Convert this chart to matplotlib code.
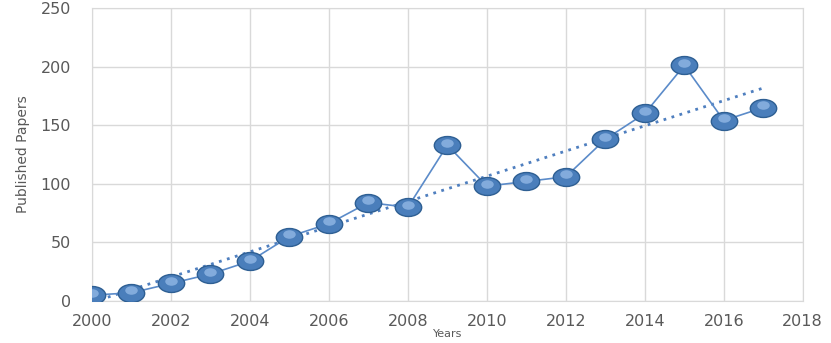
import numpy as np
import matplotlib
matplotlib.use("Agg")
import matplotlib.pyplot as plt
from matplotlib.path import Path
from matplotlib.transforms import Affine2D

years = [2000, 2001, 2002, 2003, 2004, 2005, 2006, 2007, 2008,
         2009, 2010, 2011, 2012, 2013, 2014, 2015, 2016, 2017]
papers = [5, 7, 15, 23, 34, 55, 66, 84, 80,
          133, 98, 102, 106, 138, 160, 201, 154, 165]

# linear trendline like excel
k, b = np.polyfit(years, papers, 1)
trend_x = np.array([years[0], years[-1]])
trend_y = k * trend_x + b

# flattened ball marker
ellipse = Path.unit_circle().transformed(Affine2D().scale(1, 0.68))

fig = plt.figure(figsize=(8.31, 3.43), dpi=100)
ax = fig.add_axes([0.1107, 0.1224, 0.8553, 0.8543])

ax.plot(trend_x, trend_y, color="#4F7FBF", lw=2, ls=(0, (1, 2)), zorder=2)
ax.plot(years, papers, color="#5B8BC9", lw=1.2, zorder=3)
ax.plot(years, papers, ls="none", marker=ellipse, ms=19,
        mfc="#4A7EBB", mec="#2E5F93", mew=1, zorder=4)
# little highlight on the balls
ax.plot(years, [p + 2 for p in papers], ls="none", marker=ellipse, ms=9,
        mfc="#8DB4E2", mec="none", alpha=0.85, zorder=5)

ax.set_xlim(2000, 2018)
ax.set_ylim(0, 250)
ax.set_xticks(range(2000, 2019, 2))
ax.set_yticks(range(0, 251, 50))
ax.grid(color="#D9D9D9", lw=1)
ax.set_axisbelow(True)
for s in ax.spines.values():
    s.set_color("#D9D9D9")
ax.tick_params(length=0, colors="#595959", labelsize=11.5)
ax.tick_params(axis="y", pad=15)
ax.tick_params(axis="x", pad=9)
ax.set_ylabel("Published Papers", color="#595959", fontsize=10, labelpad=8)
ax.set_xlabel("Years", color="#595959", fontsize=8, labelpad=0)

fig.savefig("out.png", dpi=100)
